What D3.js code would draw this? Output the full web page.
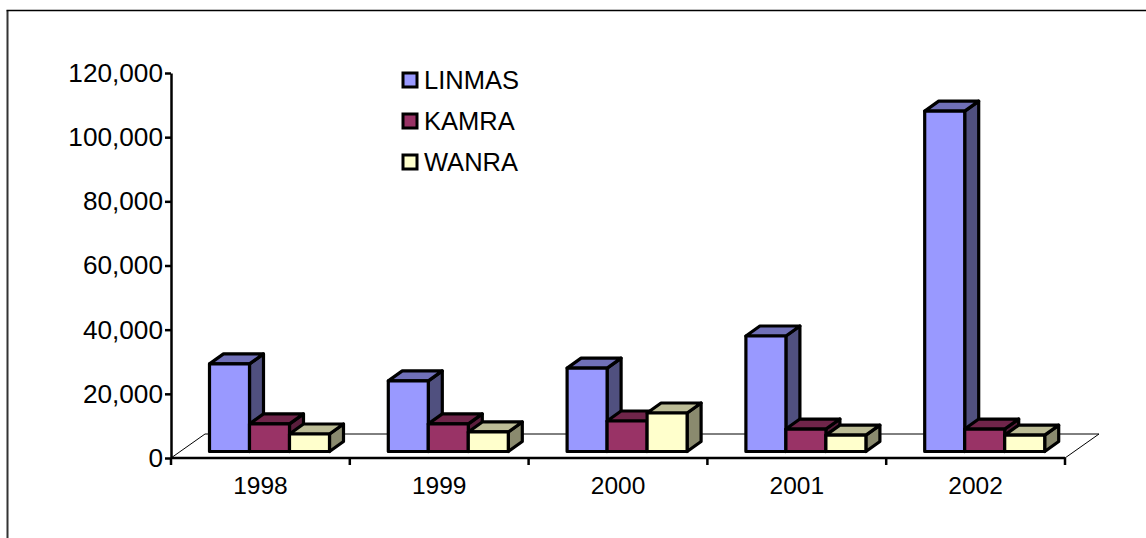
<!DOCTYPE html>
<html><head><meta charset="utf-8">
<script src="https://cdn.jsdelivr.net/npm/d3@7"></script>
<style>html,body{margin:0;padding:0;background:#fff;overflow:hidden}svg{display:block}text{font-family:"Liberation Sans",Arial,sans-serif;fill:#000}</style>
</head><body><svg id="c" width="1146" height="538"></svg>
<script>
const categories = ["1998","1999","2000","2001","2002"];
const seriesNames = ["LINMAS","KAMRA","WANRA"];
const linmas = [27300,22000,26000,36000,106100];
const kamra = [8600,8600,9500,7000,7000];
const wanra = [5450,6100,12000,5100,5100];
const yTicks = [0,20000,40000,60000,80000,100000,120000];
const front = ["#9999ff","#993366","#ffffcc"];
const top_ = ["#7070b8","#70254a","#bcbc96"];
const side = ["#50507f","#5a1e3c","#8a8a6e"];
const values = [linmas,kamra,wanra];

const svg = d3.select("#c");
const x = d3.scaleBand().domain(categories).range([171,1065]).paddingInner(0).paddingOuter(0);
const y = d3.scaleLinear().domain([0,120000]).range([458,73]);
const dx = 14, dy = -10, lift = 6.5, fl = 34, fh = -24;
const barW = 40, pad = 38.5;

svg.append("path").attr("d","M7.5,538V10.5").attr("fill","none").attr("stroke","#333").attr("stroke-width",2);
svg.append("path").attr("d","M6.5,10.5H1146").attr("fill","none").attr("stroke","#000").attr("stroke-width",1.5);

// floor
svg.append("path")
  .attr("d",`M${x.range()[0]},${y(0)}l${fl},${fh}H${x.range()[1]+fl}l${-fl},${-fh}`)
  .attr("fill","none").attr("stroke","#000").attr("stroke-width",1);

// bars
const bars = [];
categories.forEach((c,i)=>seriesNames.forEach((s,j)=>bars.push({c,j,v:values[j][i]})));
const g = svg.append("g").attr("stroke","#000").attr("stroke-width",3.2).attr("stroke-linejoin","round");
const barG = g.selectAll("g").data(bars).join("g");
const bx = d=>x(d.c)+pad+d.j*barW, by = d=>y(d.v)-lift, b0 = y(0)-lift;
barG.append("path").attr("fill",d=>side[d.j])
  .attr("d",d=>`M${bx(d)+barW},${by(d)}l${dx},${dy}V${b0+dy}l${-dx},${-dy}Z`);
barG.append("path").attr("fill",d=>top_[d.j])
  .attr("d",d=>`M${bx(d)},${by(d)}l${dx},${dy}h${barW}l${-dx},${-dy}Z`);
barG.append("rect").attr("fill",d=>front[d.j])
  .attr("x",bx).attr("y",by).attr("width",barW).attr("height",d=>b0-by(d));

// axes
const ax = svg.append("g").attr("transform","translate(171,0)").style("font-size","26.2px")
  .call(d3.axisLeft(y).tickValues(yTicks).tickFormat(d3.format(",")).tickSize(6).tickSizeOuter(0).tickPadding(2));
ax.select(".domain").attr("stroke","#000").attr("stroke-width",2.5);
ax.selectAll("line").attr("stroke","#000").attr("stroke-width",2.5);
ax.selectAll("text").attr("fill","#000");
const ax2 = svg.append("g").attr("transform","translate(0,458)").style("font-size","24.5px")
  .call(d3.axisBottom(x).tickSize(0).tickPadding(19));
ax2.select(".domain").attr("stroke","#000").attr("stroke-width",2.5).attr("d","M171,0H1065");
ax2.selectAll("text").attr("fill","#000");
svg.append("g").selectAll("line").data(x.domain().map(d=>x(d)).concat([x.range()[1]])).join("line")
  .attr("x1",d=>d).attr("x2",d=>d).attr("y1",458).attr("y2",465).attr("stroke","#000").attr("stroke-width",2.5);

// legend
const lg = svg.append("g").selectAll("g").data(seriesNames).join("g")
  .attr("transform",(d,i)=>`translate(403,${80+i*41})`);
lg.append("rect").attr("x",0).attr("y",-7).attr("width",14).attr("height",14)
  .attr("fill",(d,i)=>front[i]).attr("stroke","#000").attr("stroke-width",3);
lg.append("text").attr("x",21).attr("y",9).style("font-size","25.5px").text(d=>d);
</script></body></html>
